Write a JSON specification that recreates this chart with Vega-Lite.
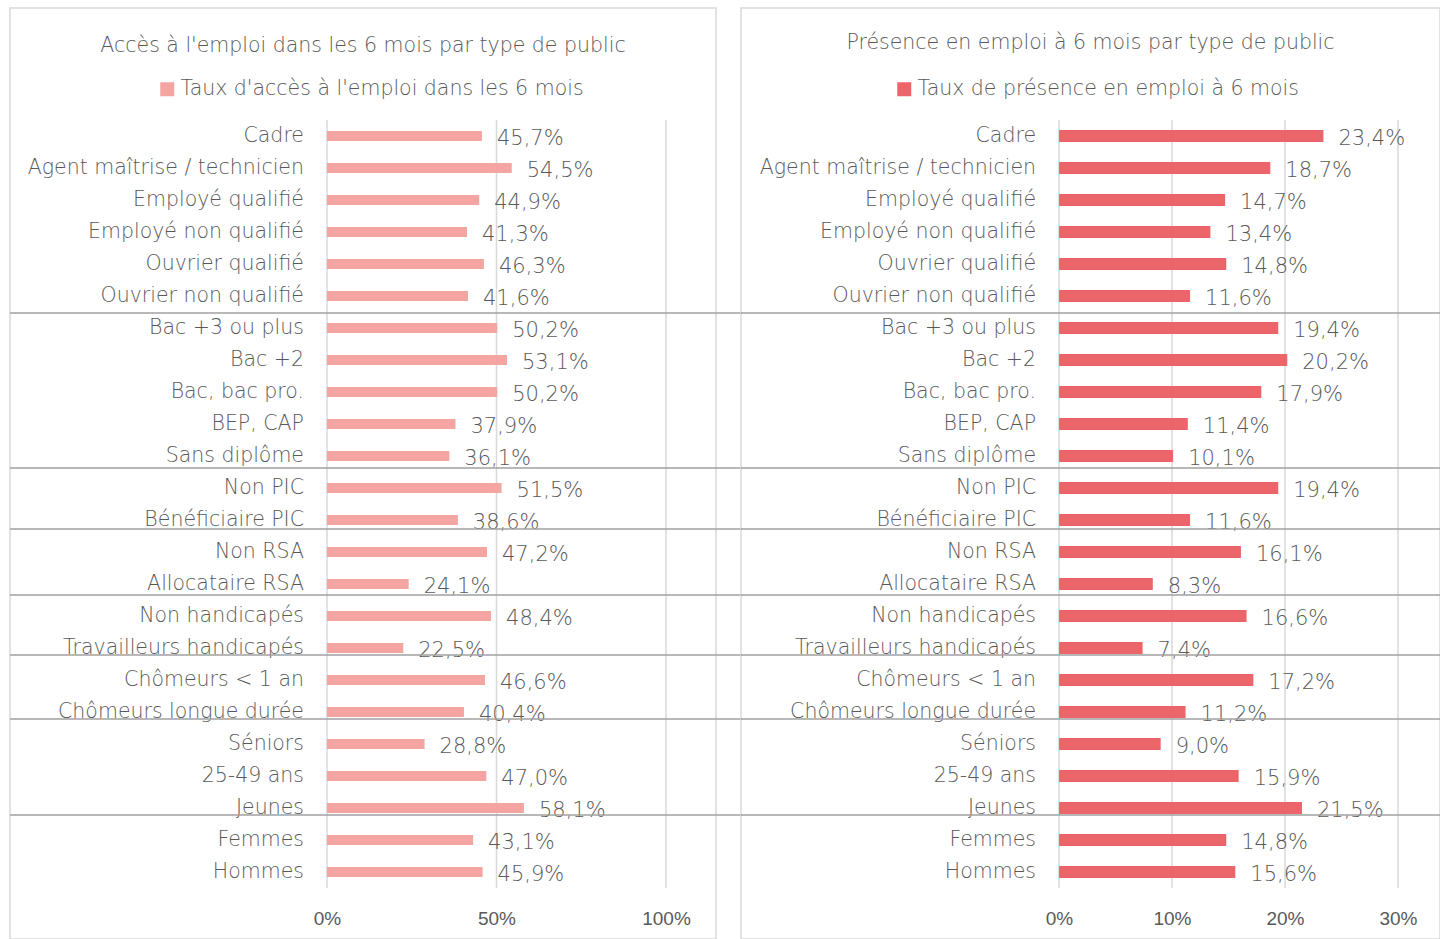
{
  "$schema": "https://vega.github.io/schema/vega-lite/v6.json",
  "padding": {"left": 8, "top": 7, "right": 0, "bottom": 0},
  "background": "white",
  "bounds": "flush",
  "spacing": 25,
  "datasets": {
    "rows": [
      {"row": 1, "cat": "Cadre", "acces": 0.457, "presence": 0.234},
      {"row": 2, "cat": "Agent maîtrise / technicien", "acces": 0.545, "presence": 0.187},
      {"row": 3, "cat": "Employé qualifié", "acces": 0.449, "presence": 0.147},
      {"row": 4, "cat": "Employé non qualifié", "acces": 0.413, "presence": 0.134},
      {"row": 5, "cat": "Ouvrier qualifié", "acces": 0.463, "presence": 0.148},
      {"row": 6, "cat": "Ouvrier non qualifié", "acces": 0.416, "presence": 0.116},
      {"row": 7, "cat": "Bac +3 ou plus", "acces": 0.502, "presence": 0.194},
      {"row": 8, "cat": "Bac +2", "acces": 0.531, "presence": 0.202},
      {"row": 9, "cat": "Bac, bac pro.", "acces": 0.502, "presence": 0.179},
      {"row": 10, "cat": "BEP, CAP", "acces": 0.379, "presence": 0.114},
      {"row": 11, "cat": "Sans diplôme", "acces": 0.361, "presence": 0.101},
      {"row": 12, "cat": "Non PIC", "acces": 0.515, "presence": 0.194},
      {"row": 13, "cat": "Bénéficiaire PIC", "acces": 0.386, "presence": 0.116},
      {"row": 14, "cat": "Non RSA", "acces": 0.472, "presence": 0.161},
      {"row": 15, "cat": "Allocataire RSA", "acces": 0.241, "presence": 0.083},
      {"row": 16, "cat": "Non handicapés", "acces": 0.484, "presence": 0.166},
      {"row": 17, "cat": "Travailleurs handicapés", "acces": 0.225, "presence": 0.074},
      {"row": 18, "cat": "Chômeurs < 1 an", "acces": 0.466, "presence": 0.172},
      {"row": 19, "cat": "Chômeurs longue durée", "acces": 0.404, "presence": 0.112},
      {"row": 20, "cat": "Séniors", "acces": 0.288, "presence": 0.090},
      {"row": 21, "cat": "25-49 ans", "acces": 0.470, "presence": 0.159},
      {"row": 22, "cat": "Jeunes", "acces": 0.581, "presence": 0.215},
      {"row": 23, "cat": "Femmes", "acces": 0.431, "presence": 0.148},
      {"row": 24, "cat": "Hommes", "acces": 0.459, "presence": 0.156}
    ],
    "seps": [
      {"pos": 6.531}, {"pos": 11.375}, {"pos": 13.281}, {"pos": 15.344},
      {"pos": 17.219}, {"pos": 19.219}, {"pos": 22.219}
    ],
    "gridL": [{"v": 0}, {"v": 0.5}, {"v": 1}],
    "gridR": [{"v": 0}, {"v": 0.1}, {"v": 0.2}, {"v": 0.3}]
  },
  "config": {
    "locale": {"number": {"decimal": ",", "thousands": " ", "grouping": [3], "currency": ["", " €"]}},
    "view": {"stroke": "#d9d9d9", "strokeWidth": 1.5},
    "font": "DejaVu Sans"
  },
  "resolve": {
    "scale": {"color": "independent", "x": "independent", "y": "independent"},
    "legend": {"color": "independent"}
  },
  "hconcat": [
    {
      "width": 706,
      "height": 931,
      "data": {"name": "rows"},
      "title": {
        "text": "Accès à l'emploi dans les 6 mois par type de public",
        "offset": -58, "baseline": "middle", "frame": "group", "anchor": "middle",
        "fontSize": 20.5, "fontWeight": 300, "color": "#595959", "font": "DejaVu Sans"
      },
      "layer": [
        {
          "data": {"name": "gridL"},
          "mark": {"type": "rule", "color": "#d9d9d9", "strokeWidth": 1.5},
          "encoding": {
            "x": {
              "field": "v", "type": "quantitative",
              "scale": {"domain": [-0.935, 1.1475], "nice": false, "zero": false},
              "axis": {
                "orient": "bottom", "offset": -21, "values": [0, 0.5, 1], "format": ".0%",
                "domain": false, "ticks": false, "tickSize": 0, "grid": false,
                "labelPadding": 0, "labelBaseline": "middle", "labelFont": "Liberation Sans",
                "labelFontSize": 19, "labelColor": "#595959", "title": null, "labelOverlap": false
              }
            },
            "y": {"datum": 0.5, "type": "quantitative",
              "scale": {"domain": [-3, 26.094], "reverse": true, "nice": false, "zero": false, "padding": 0},
              "axis": null},
            "y2": {"datum": 24.5}
          }
        },
        {
          "mark": {"type": "bar", "size": 10, "orient": "horizontal"},
          "encoding": {
            "x": {"field": "acces", "type": "quantitative"},
            "x2": {"datum": 0},
            "y": {"field": "row", "type": "quantitative"},
            "color": {
              "datum": "Taux d'accès à l'emploi dans les 6 mois",
              "scale": {"range": ["#F4A5A2"]},
              "legend": {
                "orient": "none", "legendX": 147, "legendY": 71, "title": null,
                "symbolType": "square", "symbolSize": 196, "symbolStrokeWidth": 0,
                "labelFont": "DejaVu Sans", "labelFontSize": 20.5, "labelFontWeight": 300, "labelColor": "#595959",
                "labelOffset": 3, "padding": 0, "labelLimit": 0
              }
            }
          }
        },
        {
          "mark": {"type": "text", "align": "left", "baseline": "middle", "dx": 15, "dy": 3,
            "fontSize": 21, "fontWeight": 300, "color": "#595959", "font": "DejaVu Sans"},
          "encoding": {
            "x": {"field": "acces", "type": "quantitative"},
            "y": {"field": "row", "type": "quantitative"},
            "text": {"field": "acces", "type": "quantitative", "format": ".1%"}
          }
        },
        {
          "mark": {"type": "text", "align": "right", "baseline": "middle", "dx": -23, "dy": 0,
            "fontSize": 20.5, "fontWeight": 300, "color": "#595959", "font": "DejaVu Sans"},
          "encoding": {
            "x": {"datum": 0, "type": "quantitative"},
            "y": {"field": "row", "type": "quantitative"},
            "text": {"field": "cat", "type": "nominal"}
          }
        },
        {
          "data": {"name": "seps"},
          "mark": {"type": "rule", "color": "#a0a0a0", "strokeWidth": 1.5},
          "encoding": {
            "y": {"field": "pos", "type": "quantitative"},
            "x": {"datum": -0.935, "type": "quantitative"},
            "x2": {"datum": 1.225}
          }
        }
      ]
    },
    {
      "width": 699,
      "height": 931,
      "data": {"name": "rows"},
      "title": {
        "text": "Présence en emploi à 6 mois par type de public",
        "offset": -55, "baseline": "middle", "frame": "group", "anchor": "middle",
        "fontSize": 20.5, "fontWeight": 300, "color": "#595959", "font": "DejaVu Sans"
      },
      "layer": [
        {
          "data": {"name": "gridR"},
          "mark": {"type": "rule", "color": "#d9d9d9", "strokeWidth": 1.5},
          "encoding": {
            "x": {
              "field": "v", "type": "quantitative",
              "scale": {"domain": [-0.28142, 0.33717], "nice": false, "zero": false},
              "axis": {
                "orient": "bottom", "offset": -21, "values": [0, 0.1, 0.2, 0.3], "format": ".0%",
                "domain": false, "ticks": false, "tickSize": 0, "grid": false,
                "labelPadding": 0, "labelBaseline": "middle", "labelFont": "Liberation Sans",
                "labelFontSize": 19, "labelColor": "#595959", "title": null, "labelOverlap": false
              }
            },
            "y": {"datum": 0.5, "type": "quantitative",
              "scale": {"domain": [-3, 26.094], "reverse": true, "nice": false, "zero": false, "padding": 0},
              "axis": null},
            "y2": {"datum": 24.5}
          }
        },
        {
          "mark": {"type": "bar", "size": 12, "orient": "horizontal"},
          "encoding": {
            "x": {"field": "presence", "type": "quantitative"},
            "x2": {"datum": 0},
            "y": {"field": "row", "type": "quantitative"},
            "color": {
              "datum": "Taux de présence en emploi à 6 mois",
              "scale": {"range": ["#EC656A"]},
              "legend": {
                "orient": "none", "legendX": 153, "legendY": 71, "title": null,
                "symbolType": "square", "symbolSize": 196, "symbolStrokeWidth": 0,
                "labelFont": "DejaVu Sans", "labelFontSize": 20.5, "labelFontWeight": 300, "labelColor": "#595959",
                "labelOffset": 3, "padding": 0, "labelLimit": 0
              }
            }
          }
        },
        {
          "mark": {"type": "text", "align": "left", "baseline": "middle", "dx": 15, "dy": 3,
            "fontSize": 21, "fontWeight": 300, "color": "#595959", "font": "DejaVu Sans"},
          "encoding": {
            "x": {"field": "presence", "type": "quantitative"},
            "y": {"field": "row", "type": "quantitative"},
            "text": {"field": "presence", "type": "quantitative", "format": ".1%"}
          }
        },
        {
          "mark": {"type": "text", "align": "right", "baseline": "middle", "dx": -23, "dy": 0,
            "fontSize": 20.5, "fontWeight": 300, "color": "#595959", "font": "DejaVu Sans"},
          "encoding": {
            "x": {"datum": 0, "type": "quantitative"},
            "y": {"field": "row", "type": "quantitative"},
            "text": {"field": "cat", "type": "nominal"}
          }
        },
        {
          "data": {"name": "seps"},
          "mark": {"type": "rule", "color": "#a0a0a0", "strokeWidth": 1.5},
          "encoding": {
            "y": {"field": "pos", "type": "quantitative"}
          }
        }
      ]
    }
  ]
}
